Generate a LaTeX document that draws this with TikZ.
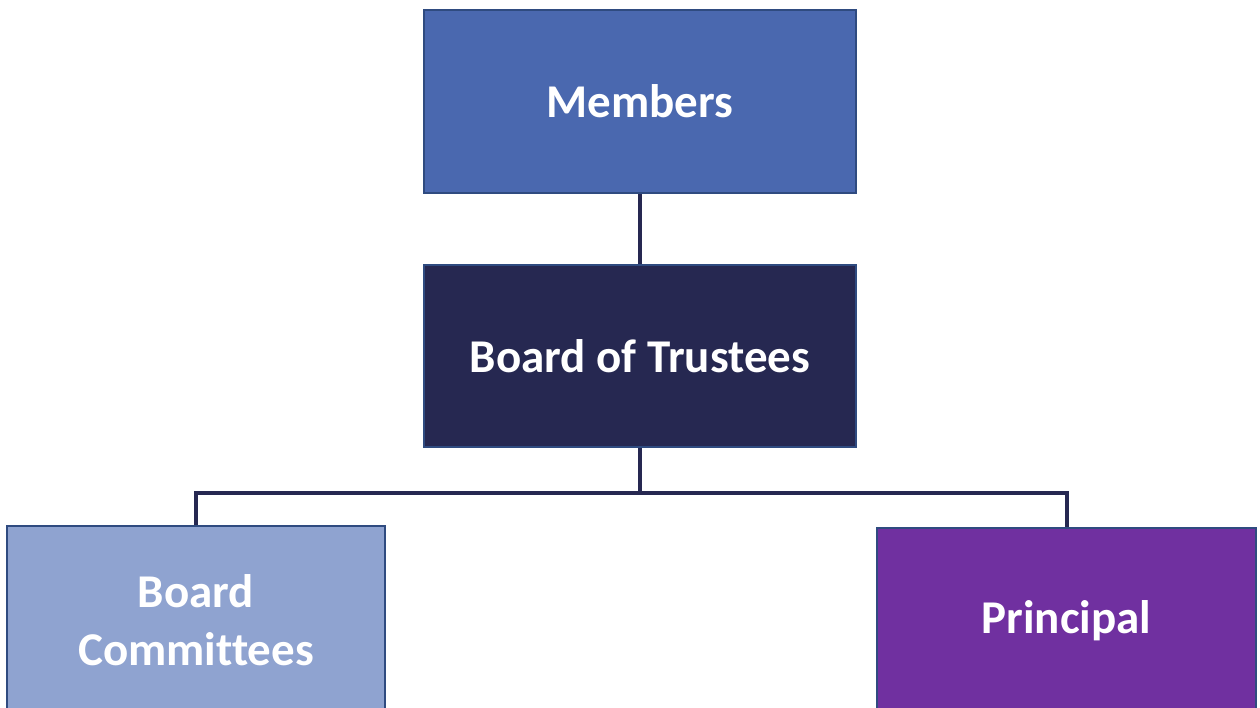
\documentclass[tikz,border=0pt]{standalone}
\usepackage{fontspec}
\setmainfont[Ligatures=NoCommon]{Carlito}
\usetikzlibrary{positioning}

\definecolor{membersblue}{HTML}{4A68AF}
\definecolor{trusteesnavy}{HTML}{262851}
\definecolor{committeesblue}{HTML}{8FA3D0}
\definecolor{principalpurple}{HTML}{7030A0}
\definecolor{edgeblue}{HTML}{2F4B80}

\tikzset{
  box/.style={draw=edgeblue, line width=2pt, text=white, align=center,
    font=\fontsize{47}{58}\selectfont\bfseries, inner sep=0pt},
  link/.style={draw=trusteesnavy, line width=4pt},
}

\begin{document}
\begin{tikzpicture}[x=1pt, y=-1pt]
\useasboundingbox (0,0) rectangle (1260,707);
%%%

\node[box, fill=membersblue, minimum width=432pt, minimum height=183pt] (M) at (640,101.5) {Members};
\node[box, fill=trusteesnavy, minimum width=432pt, minimum height=182pt] (T) at (640,356) {Board of Trustees};

\node[box, fill=committeesblue, minimum width=378pt, minimum height=188pt] (C) at (196,620) {Board\\Committees};
\node[box, fill=principalpurple, minimum width=379pt, minimum height=186pt] (P) at (1066.5,621) {Principal};

% lines
\draw[link] (M) -- (T);
\draw[link] (T.south) -- ++(0,45) -| (C.north);
\draw[link] (T.south) -- ++(0,45) -| (P.north);
%%%
\end{tikzpicture}
\end{document}
